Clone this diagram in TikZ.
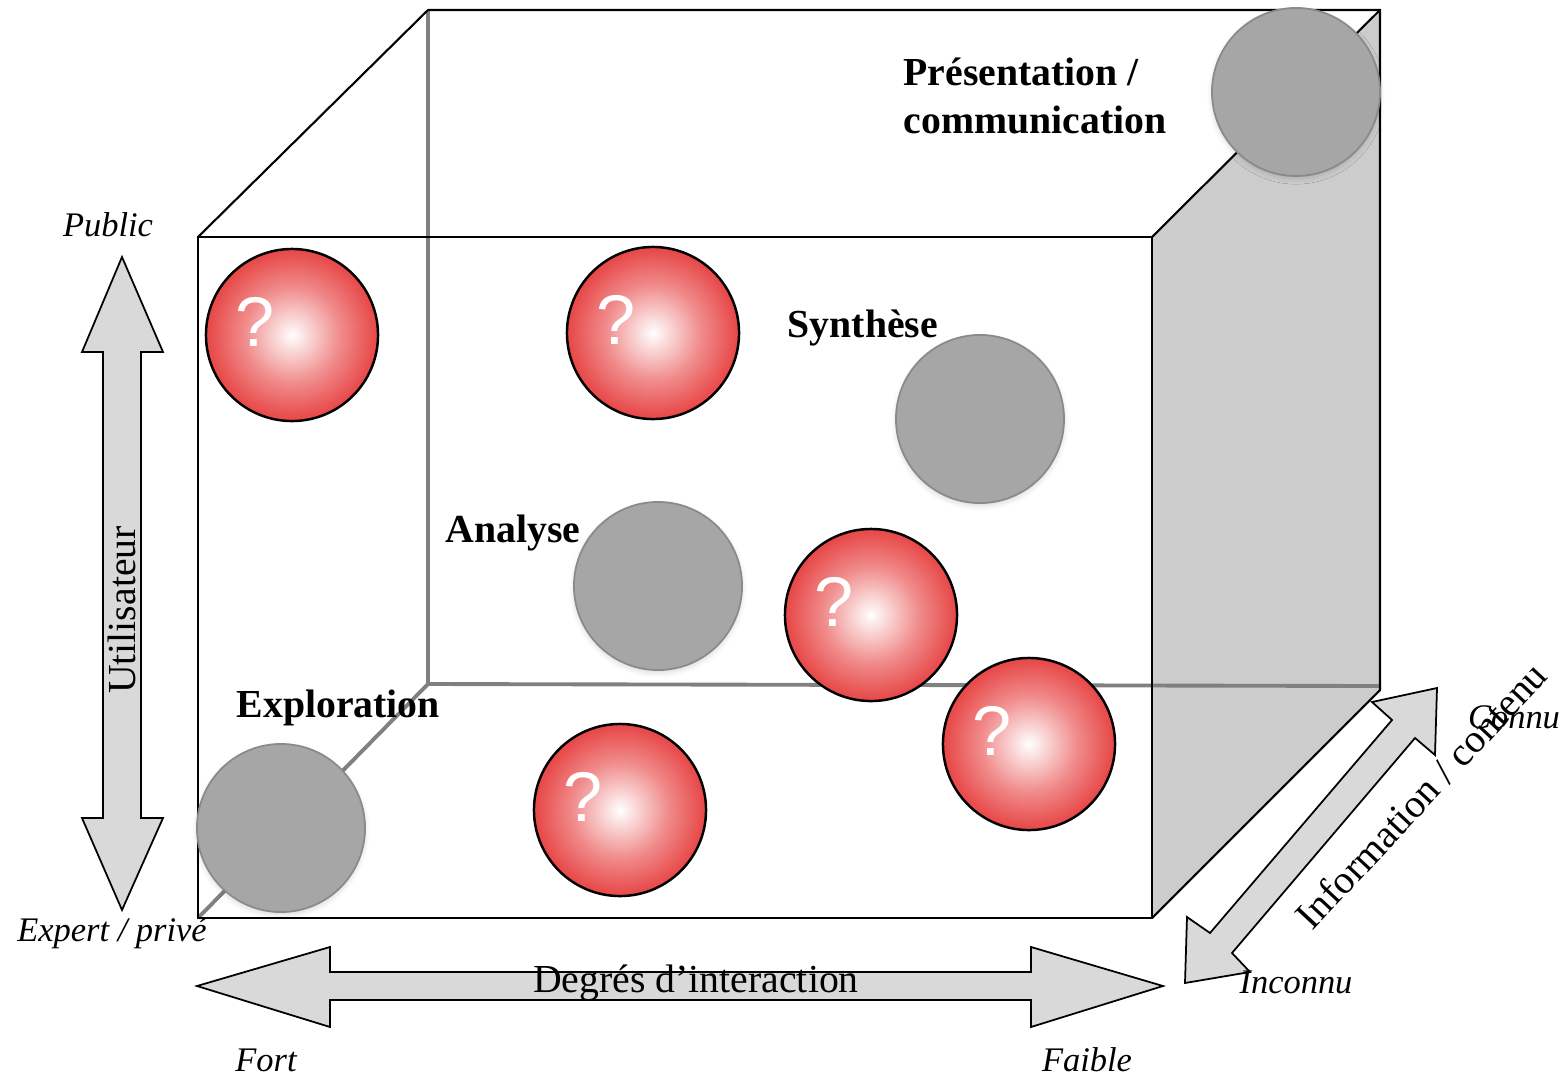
\documentclass[tikz,border=0pt]{standalone}
\usepackage{fontspec}
\setmainfont{Liberation Serif}
\newfontfamily\qfont{Liberation Sans}
\usetikzlibrary{shadows.blur}
\definecolor{backedge}{HTML}{808080}
\definecolor{sideface}{HTML}{CCCCCC}
\definecolor{axisfill}{HTML}{D9D9D9}
\definecolor{ballgray}{HTML}{A6A6A6}
\definecolor{ballgrayrim}{HTML}{8A8A8A}
\definecolor{ballred}{HTML}{E42C2C}
\pgfdeclareradialshading{redglow}{\pgfpoint{0bp}{0bp}}{%
  color(0bp)=(white); color(3bp)=(white!88!ballred);
  color(14bp)=(ballred!55!white); color(24bp)=(ballred!85!white);
  color(32bp)=(ballred); color(50bp)=(ballred)}

\begin{document}
\begin{tikzpicture}[
  x=0.01cm, y=-0.01cm,
  font=\fontsize{11.3}{13.6}\selectfont,
  frontedge/.style={draw=black, line width=0.6pt},
  backline/.style={draw=backedge, line width=1.1pt},
  grayball/.style={circle, fill=ballgray, draw=ballgrayrim, line width=0.5pt,
    minimum size=1.68cm, inner sep=0pt,
    blur shadow={shadow xshift=0pt, shadow yshift=-0.8pt, shadow blur radius=1.5pt, shadow opacity=15}},
  redball/.style={circle, shading=redglow, draw=black, line width=0.7pt,
    minimum size=1.72cm, inner sep=0pt},
  qmark/.style={text=white, inner sep=0pt, font=\qfont\fontsize{20}{20}\selectfont},
  stage/.style={font=\fontsize{11.3}{13.7}\selectfont\bfseries, inner sep=0pt, align=left},
  pole/.style={font=\itshape\fontsize{9.8}{11}\selectfont, inner sep=0pt},
  axisarrow/.style={fill=axisfill, draw=black, line width=0.5pt, line join=miter}
]
\useasboundingbox (0,0) rectangle (1563,1075);

% cube
\fill[sideface] (1152,237) -- (1380,10) -- (1380,690) -- (1152,918) -- cycle;
\draw[backline] (428,10) -- (428,684) -- (1380,686);
\draw[backline] (428,684) -- (198,918);
\draw[frontedge] (198,237) rectangle (1152,918);
\draw[frontedge] (198,237) -- (428,10) -- (1380,10) -- (1380,690) -- (1152,918);
\draw[frontedge] (1152,237) -- (1380,10);

% axes
\draw[axisarrow] (122,257) -- (163,352) -- (141,352) -- (141,818) -- (163,818) -- (122,910)
  -- (82,818) -- (103,818) -- (103,352) -- (82,352) -- cycle;
\draw[axisarrow] (197,986) -- (330,947) -- (330,972) -- (1031,972) -- (1031,947) -- (1163,986)
  -- (1031,1027) -- (1031,1000) -- (330,1000) -- (330,1027) -- cycle;
\draw[axisarrow] (1437,688) -- (1435,755) -- (1415,738) -- (1232,953) -- (1250,972) -- (1185,983)
  -- (1187,917) -- (1210,933) -- (1392,720) -- (1372,702) -- cycle;

\node[rotate=90] (user) at (122,610) {Utilisateur};
\node (degree) at (696,983) {Degrés d’interaction};
\node[rotate=47] (content) at (1421,795) {Information / contenu};

\node[pole] (public) at (108,225) {Public};
\node[pole] (expert) at (112,933) {Expert / privé};
\node[pole] (strong) at (266,1060) {Fort};
\node[pole] (weak) at (1087,1060) {Faible};
\node[pole] (unknown) at (1296,982) {Inconnu};
\node[pole] (known) at (1514,717) {Connu};

% stages
\node[grayball] (present) at (1296,92) {};
\node[grayball] (synth) at (980,419) {};
\node[grayball] (analy) at (658,586) {};
\node[grayball] (explo) at (281,828) {};

\node[stage, anchor=west] (presentlab) at (903,96) {Présentation /\\communication};
\node[stage, anchor=base west] (synthlab) at (787,337) {Synthèse};
\node[stage, anchor=base west] (analylab) at (445,542) {Analyse};
\node[stage, anchor=base west] (explolab) at (236,717) {Exploration};

% open questions
\foreach \x/\y [count=\i] in {292/335, 653/333, 871/615, 1029/744, 620/810} {
  \node[redball] (q\i) at (\x,\y) {};
  \node[qmark] at ([shift={(-37,-13)}]q\i.center) {?};
}
\end{tikzpicture}
\end{document}
